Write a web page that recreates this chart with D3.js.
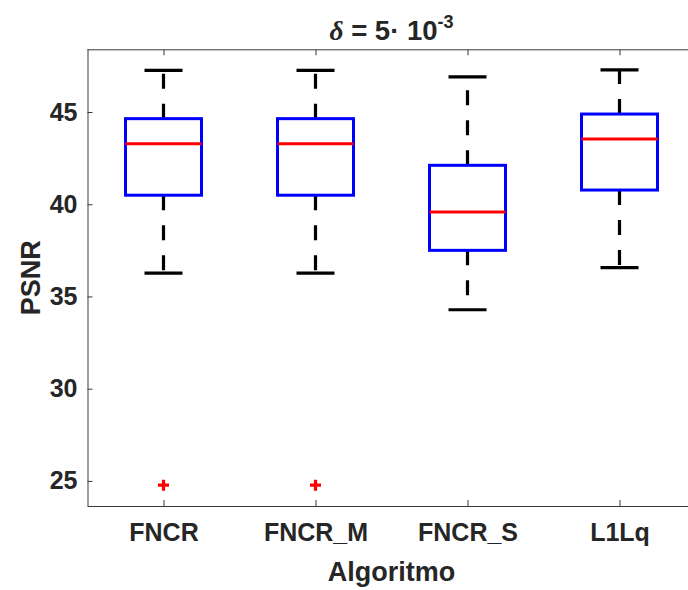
<!DOCTYPE html>
<html>
<head>
<meta charset="utf-8">
<script src="https://cdn.jsdelivr.net/npm/d3@7"></script>
<style>
  html, body { margin: 0; padding: 0; background: #fff; }
  svg { display: block; }
  text { font-family: "Liberation Sans", Arial, Helvetica, sans-serif; font-weight: bold; fill: #262626; }
</style>
</head>
<body>
<svg id="chart" width="688" height="590"></svg>
<script>
// PSNR distribution per algorithm (five-number summaries + outliers)
const categories   = ["FNCR", "FNCR_M", "FNCR_S", "L1Lq"];
const lowerWhisker = [36.27, 36.27, 34.28, 36.56];
const q1           = [40.49, 40.49, 37.50, 40.77];
const medians      = [43.28, 43.28, 39.58, 43.54];
const q3           = [44.64, 44.64, 42.11, 44.89];
const upperWhisker = [47.26, 47.26, 46.90, 47.28];
const outliers     = [[24.77], [24.77], [], []];
const yTicks       = [25, 30, 35, 40, 45];
const yDomain      = [23.64, 48.40];

const svg = d3.select("#chart");
const plotLeft = 87.5, plotRight = 695.5, plotTop = 49.3, plotBottom = 506;

const x = d3.scalePoint().domain(categories).range([plotLeft, plotRight]).padding(0.5);
const y = d3.scaleLinear().domain(yDomain).range([plotBottom, plotTop]);
const step = x.step();
const boxW = step * 0.5, capW = step * 0.25;

const rows = categories.map((c, i) => ({
  cat: c, lo: lowerWhisker[i], q1: q1[i], med: medians[i], q3: q3[i], hi: upperWhisker[i], out: outliers[i]
}));

// axes
const axisColor = "#3a3a3a";
const gx = svg.append("g").attr("transform", `translate(0,${plotBottom})`)
  .call(d3.axisBottom(x).tickSize(-6).tickPadding(17));
const gxTop = svg.append("g").attr("transform", `translate(0,${plotTop})`)
  .call(d3.axisTop(x).tickSize(-6).tickFormat(""));
const gy = svg.append("g").attr("transform", `translate(${plotLeft},0)`)
  .call(d3.axisLeft(y).tickValues(yTicks).tickSize(-5).tickPadding(10));

[gx, gxTop, gy].forEach(g => {
  g.select(".domain").attr("stroke", axisColor).attr("stroke-width", 1);
  g.selectAll(".tick line").attr("stroke", axisColor).attr("stroke-width", 1);
  g.selectAll(".tick text").attr("font-size", 25).attr("fill", "#262626")
    .attr("font-family", "'Liberation Sans', Arial, sans-serif").attr("font-weight", "bold");
});
// straight frame lines without end ticks
gx.select(".domain").attr("d", `M${plotLeft},0.5H${plotRight}`);
gxTop.select(".domain").attr("d", `M${plotLeft},0.5H${plotRight}`);
gy.select(".domain").attr("d", `M0.5,${plotTop}V${plotBottom}`);

const g = svg.append("g");

rows.forEach(d => {
  const cx = x(d.cat);
  // dashed whiskers, starting at the box edge
  g.append("line").attr("x1", cx).attr("x2", cx).attr("y1", y(d.q3)).attr("y2", y(d.hi))
    .attr("stroke", "#000").attr("stroke-width", 3.2).attr("stroke-dasharray", "15,15");
  g.append("line").attr("x1", cx).attr("x2", cx).attr("y1", y(d.q1)).attr("y2", y(d.lo))
    .attr("stroke", "#000").attr("stroke-width", 3.2).attr("stroke-dasharray", "15,15");
  // whisker caps
  [d.hi, d.lo].forEach(v => {
    g.append("line").attr("x1", cx - capW / 2).attr("x2", cx + capW / 2)
      .attr("y1", y(v)).attr("y2", y(v)).attr("stroke", "#000").attr("stroke-width", 3.2);
  });
  // box
  g.append("rect").attr("x", cx - boxW / 2).attr("width", boxW)
    .attr("y", y(d.q3)).attr("height", y(d.q1) - y(d.q3))
    .attr("fill", "none").attr("stroke", "#0000ff").attr("stroke-width", 3);
  // median
  g.append("line").attr("x1", cx - boxW / 2).attr("x2", cx + boxW / 2)
    .attr("y1", y(d.med)).attr("y2", y(d.med)).attr("stroke", "#ff0000").attr("stroke-width", 3);
  // outliers
  d.out.forEach(v => {
    const px = cx, py = y(v), r = 5.5;
    g.append("path").attr("d", `M${px - r},${py}H${px + r}M${px},${py - r}V${py + r}`)
      .attr("stroke", "#ff0000").attr("stroke-width", 3.2).attr("fill", "none");
  });
});

// title
const title = svg.append("text").attr("x", (plotLeft + plotRight) / 2).attr("y", 40)
  .attr("text-anchor", "middle").attr("font-size", 27.5);
title.append("tspan").attr("font-style", "italic").attr("font-family", "'Liberation Serif', serif").text("δ");
title.append("tspan").text(" = 5· 10");
title.append("tspan").attr("font-size", 18).attr("dy", -12).text("-3");

// axis labels
svg.append("text").attr("x", (plotLeft + plotRight) / 2).attr("y", 581)
  .attr("text-anchor", "middle").attr("font-size", 27).text("Algoritmo");
svg.append("text").attr("transform", `translate(40,${(plotTop + plotBottom) / 2}) rotate(-90)`)
  .attr("text-anchor", "middle").attr("font-size", 27).text("PSNR");
</script>
</body>
</html>
